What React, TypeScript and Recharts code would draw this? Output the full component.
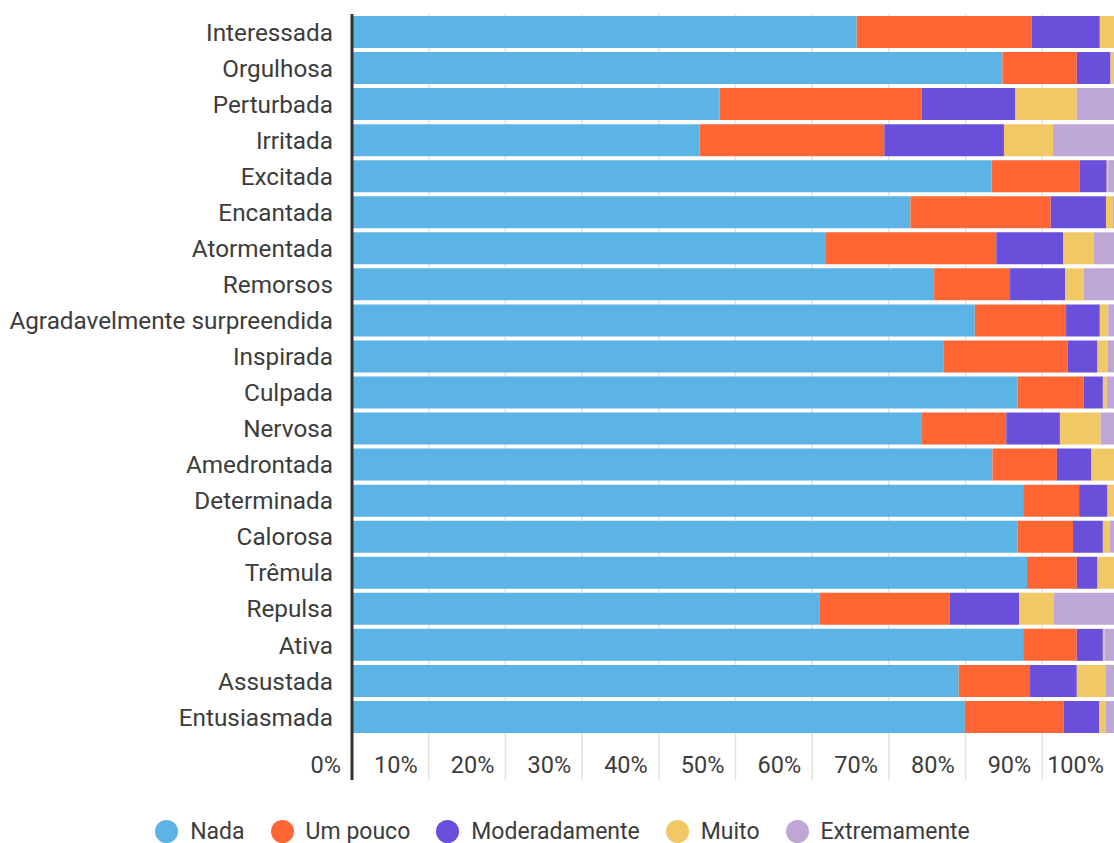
import { BarChart, Bar, XAxis, YAxis, CartesianGrid, Legend } from "recharts";

// emotions, top to bottom
const emotions = [
  "Interessada",
  "Orgulhosa",
  "Perturbada",
  "Irritada",
  "Excitada",
  "Encantada",
  "Atormentada",
  "Remorsos",
  "Agradavelmente surpreendida",
  "Inspirada",
  "Culpada",
  "Nervosa",
  "Amedrontada",
  "Determinada",
  "Calorosa",
  "Trêmula",
  "Repulsa",
  "Ativa",
  "Assustada",
  "Entusiasmada",
];

// share of answers (%) per level, same order as emotions
const nada = [65.8, 84.8, 47.9, 45.3, 83.4, 72.8, 61.8, 75.9, 81.2, 77.1, 86.8, 74.3, 83.5, 87.5, 86.8, 88.0, 61.0, 87.5, 79.1, 79.9];
const umPouco = [22.8, 9.7, 26.4, 24.1, 11.5, 18.3, 22.2, 9.9, 11.9, 16.2, 8.6, 11.0, 8.4, 7.3, 7.2, 6.5, 16.9, 7.0, 9.3, 12.9];
const moderadamente = [8.9, 4.4, 12.2, 15.6, 3.5, 7.2, 8.7, 7.2, 4.4, 3.9, 2.5, 7.0, 4.5, 3.7, 3.9, 2.7, 9.1, 3.4, 6.1, 4.6];
const muito = [2.0, 0.5, 8.0, 6.4, 0.2, 0.9, 4.0, 2.4, 1.1, 1.3, 0.5, 5.3, 3.0, 1.0, 0.9, 2.3, 4.5, 0.2, 3.8, 0.9];
const extremamente = [0.5, 0.6, 5.5, 8.6, 1.4, 0.8, 3.3, 4.6, 1.4, 1.5, 1.6, 2.4, 0.6, 0.5, 1.2, 0.5, 8.5, 1.9, 1.7, 1.7];

const pctTicks = [0, 10, 20, 30, 40, 50, 60, 70, 80, 90, 100];

const series = [
  { key: "nada", label: "Nada", color: "#5bb4e5" },
  { key: "umPouco", label: "Um pouco", color: "#ff6633" },
  { key: "moderadamente", label: "Moderadamente", color: "#6a4fdb" },
  { key: "muito", label: "Muito", color: "#f0c866" },
  { key: "extremamente", label: "Extremamente", color: "#bea6d6" },
];

const data = emotions.map((name, i) => ({
  name,
  nada: nada[i],
  umPouco: umPouco[i],
  moderadamente: moderadamente[i],
  muito: muito[i],
  extremamente: extremamente[i],
}));

const TEXT = "#3c3c3c";

// percent tick: grid line continues below the plot, label sits left of it
function PctTick(props: any) {
  const { x, y, payload } = props;
  const zero = payload.value === 0;
  return (
    <g>
      <line
        x1={x}
        x2={x}
        y1={y}
        y2={y + 45}
        stroke={zero ? "#333" : "#e2e2e2"}
        strokeWidth={zero ? 3 : 1.5}
      />
      <text
        x={x - 11}
        y={y + 30}
        textAnchor="end"
        dominantBaseline="central"
        fontSize={23.5}
        fill={TEXT}
      >
        {payload.value}%
      </text>
    </g>
  );
}

function LegendRow() {
  return (
    <div
      style={{
        display: "flex",
        justifyContent: "center",
        alignItems: "center",
        height: 24,
        paddingLeft: 6,
        fontSize: 23,
        color: TEXT,
        gap: 26,
      }}
    >
      {series.map((s) => (
        <div key={s.key} style={{ display: "flex", alignItems: "center" }}>
          <span
            style={{
              width: 23,
              height: 23,
              borderRadius: "50%",
              background: s.color,
              marginRight: 12,
              display: "inline-block",
            }}
          />
          <span>{s.label}</span>
        </div>
      ))}
    </div>
  );
}

export default function App() {
  return (
    <div
      style={{
        position: "fixed",
        left: 0,
        top: 0,
        width: 1114,
        height: 843,
        overflow: "hidden",
        background: "#fff",
        fontFamily: "Roboto, sans-serif",
      }}
    >
      <BarChart
        width={1127}
        height={843}
        data={data}
        layout="vertical"
        margin={{ top: 14, right: 8, bottom: 0, left: 0 }}
      >
        <CartesianGrid horizontal={false} stroke="#e2e2e2" strokeWidth={1.5} />
        <XAxis
          type="number"
          domain={[0, 100]}
          ticks={pctTicks}
          height={84}
          axisLine={false}
          tickLine={false}
          tickSize={0}
          tickMargin={0}
          tick={(p: any) => <PctTick {...p} />}
        />
        <YAxis
          type="category"
          dataKey="name"
          width={352}
          interval={0}
          tickLine={false}
          tickSize={0}
          tickMargin={19}
          axisLine={{ stroke: "#333", strokeWidth: 3 }}
          tick={{ fill: TEXT, fontSize: 24.3 }}
        />
        {series.map((s) => (
          <Bar
            key={s.key}
            dataKey={s.key}
            name={s.label}
            stackId="total"
            fill={s.color}
            barSize={32}
            isAnimationActive={false}
          />
        ))}
        <Legend verticalAlign="bottom" height={24} content={() => <LegendRow />} />
      </BarChart>
    </div>
  );
}
